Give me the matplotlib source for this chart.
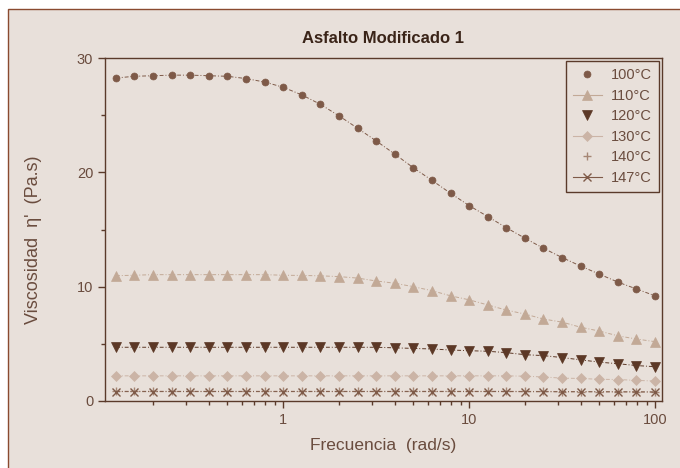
import numpy as np
import matplotlib.pyplot as plt
from matplotlib.lines import Line2D
from matplotlib.patches import Rectangle

# frecuencia (rad/s), 10 puntos por decada
freq = [0.126, 0.158, 0.200, 0.251, 0.316, 0.398, 0.501, 0.631, 0.794, 1.00,
        1.26, 1.58, 2.00, 2.51, 3.16, 3.98, 5.01, 6.31, 7.94, 10.0,
        12.6, 15.8, 20.0, 25.1, 31.6, 39.8, 50.1, 63.1, 79.4, 100.0]

# viscosidad (Pa.s) por temperatura
v100 = [28.25, 28.4, 28.45, 28.5, 28.5, 28.45, 28.4, 28.2, 27.9, 27.44,
        26.77, 25.96, 24.93, 23.86, 22.75, 21.6, 20.4, 19.3, 18.17, 17.09,
        16.13, 15.17, 14.23, 13.36, 12.55, 11.8, 11.1, 10.4, 9.8, 9.2]
v110 = [10.96, 11.0, 11.05, 11.05, 11.05, 11.05, 11.05, 11.05, 11.05, 11.0,
        10.98, 10.95, 10.88, 10.75, 10.5, 10.3, 10.0, 9.65, 9.2, 8.85,
        8.4, 7.96, 7.6, 7.17, 6.9, 6.45, 6.12, 5.7, 5.42, 5.19]
v120 = [4.7, 4.7, 4.7, 4.7, 4.7, 4.7, 4.7, 4.7, 4.7, 4.7,
        4.7, 4.7, 4.7, 4.7, 4.7, 4.65, 4.6, 4.55, 4.46, 4.4,
        4.35, 4.23, 4.05, 3.97, 3.8, 3.6, 3.4, 3.26, 3.1, 3.0]
v130 = [2.2, 2.2, 2.2, 2.2, 2.2, 2.2, 2.2, 2.2, 2.2, 2.2,
        2.2, 2.2, 2.2, 2.2, 2.2, 2.2, 2.2, 2.2, 2.2, 2.2,
        2.2, 2.2, 2.17, 2.1, 2.0, 1.97, 1.9, 1.88, 1.8, 1.75]
v140 = [0.85, 0.85, 0.85, 0.85, 0.85, 0.85, 0.85, 0.85, 0.85, 0.85,
        0.85, 0.85, 0.85, 0.85, 0.85, 0.85, 0.85, 0.85, 0.85, 0.85,
        0.85, 0.85, 0.84, 0.84, 0.83, 0.83, 0.82, 0.82, 0.81, 0.8]
v147 = [0.82, 0.82, 0.82, 0.82, 0.82, 0.82, 0.82, 0.82, 0.82, 0.82,
        0.82, 0.82, 0.82, 0.82, 0.82, 0.82, 0.82, 0.82, 0.82, 0.82,
        0.82, 0.82, 0.81, 0.81, 0.80, 0.80, 0.80, 0.79, 0.79, 0.78]

labels = ["100°C", "110°C", "120°C", "130°C", "140°C", "147°C"]
series = [v100, v110, v120, v130, v140, v147]
colors = ["#7e5a48", "#c2a996", "#5c3826", "#cbb4a6", "#a58674", "#7e5a48"]
markers = ["o", "^", "v", "D", "+", "x"]
msizes = [5, 6.5, 6.5, 5, 6, 5.5]
legline = [False, True, False, True, False, True]

bg = "#e8e0da"
dark = "#5a3a2a"
txt = "#6a4c3e"

plt.rcParams['font.family'] = ['Liberation Sans', 'DejaVu Sans']

fig = plt.figure(figsize=(6.8, 4.68), dpi=100)
fig.patch.set_facecolor("white")
fig.patches.append(Rectangle((8 / 680, -0.01), 1.0, 1 - 9 / 468 + 0.01,
                             transform=fig.transFigure, facecolor=bg,
                             edgecolor="#8a4a30", linewidth=1.0, zorder=-10))

ax = fig.add_axes([105 / 680, 67 / 468, 557 / 680, 343 / 468])
ax.set_facecolor(bg)

handles = []
for y, lab, c, m, ms, ll in zip(series, labels, colors, markers, msizes, legline):
    ax.plot(freq, y, linestyle=(0, (4, 2, 1, 2)), linewidth=0.7, color=c,
            marker=m, markersize=ms, markeredgewidth=1.0 if m in "+x" else 0.5,
            markerfacecolor=c, markeredgecolor=c)
    handles.append(Line2D([], [], color=c, marker=m, markersize=ms,
                          linestyle="-" if ll else "none", linewidth=0.8,
                          markeredgewidth=1.0 if m in "+x" else 0.5))

ax.set_xscale("log")
ax.set_xlim(0.110, 109)
ax.set_ylim(0, 30)
ax.set_yticks([0, 10, 20, 30])
ax.set_yticks([5, 15, 25], minor=True)
ax.set_xticks([1, 10, 100])
ax.set_xticklabels(["1", "10", "100"])

for s in ax.spines.values():
    s.set_color(dark)
    s.set_linewidth(1.0)
ax.tick_params(which="major", direction="out", length=5, width=1.0,
               color=dark, labelcolor=txt, labelsize=10.5)
ax.tick_params(which="minor", direction="out", length=3, width=1.0, color=dark)

ax.set_title("Asfalto Modificado 1", fontsize=12, fontweight="bold",
             color="#3a2418", pad=11)
ax.set_xlabel("Frecuencia  (rad/s)", fontsize=12.5, color=txt, labelpad=8)
ax.set_ylabel("Viscosidad  η'  (Pa.s)", fontsize=13, color=txt)
ax.yaxis.set_label_coords(-0.113, 0.47)

leg = ax.legend(handles, labels, loc="upper right", fontsize=10.5,
                frameon=True, fancybox=False, borderaxespad=0.2,
                handlelength=2.0, handletextpad=0.6, labelspacing=0.45,
                borderpad=0.5)
leg.get_frame().set_facecolor(bg)
leg.get_frame().set_edgecolor(dark)
leg.get_frame().set_linewidth(1.0)
leg.get_frame().set_alpha(1)
for t in leg.get_texts():
    t.set_color(txt)

fig.savefig("out.png", dpi=100, facecolor=fig.get_facecolor())
